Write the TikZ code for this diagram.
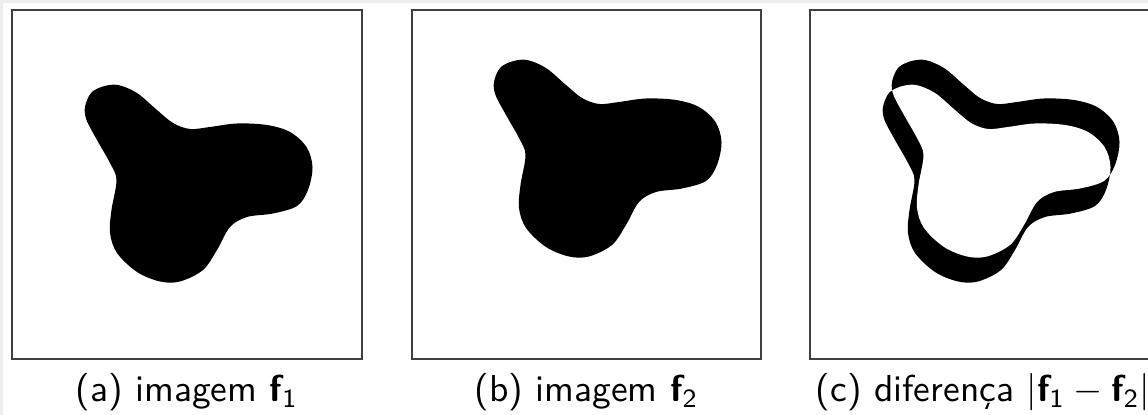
\documentclass[tikz,border=0pt]{standalone}
\usepackage{amsmath}
\usepackage{tikz}
\usetikzlibrary{positioning}

% Outline of the shape f_1 (pixel coordinates, panel (a))
\newcommand{\blobPath}{plot[smooth cycle, tension=0.55] coordinates {
    (85,107) (91,93) (103,86.5) (118,85) (137,93) (157,110) (173,123)
    (190,129) (210,127) (237,123.5) (267,125) (290,132) (306.5,147)
    (312.5,167) (308,190) (297,206) (273,213.5) (247,217) (230,227)
    (217,250) (203,270) (180,281.5) (160,281.5) (137,272) (117,253)
    (110,233) (111.5,210) (116.5,180) (110,163) (97,140) (86.5,120)}}

\begin{document}
\begin{tikzpicture}[
    x=0.2667pt, y=-0.2667pt,
    font=\sffamily,
    frame/.style={draw=black!75, line width=0.55pt},
    blob/.style={fill=black},
    caption/.style={anchor=base, inner sep=0pt}
]

% Macros for the panel offsets
\def\dx{9}    % shift of f_2 with respect to f_1
\def\dy{-25}
\def\offB{400}
\def\offC{798}

\clip (0,0) rectangle (1148,415);
\fill[black!7] (0,0) rectangle (1148,415);
\fill[white] (3,3) rectangle (1148,415);

% ==========================================
% (a) imagem f_1
\draw[frame] (12,10) rectangle (362,359);
\fill[blob] \blobPath;
\node[caption] (capA) at (187,402) {(a) imagem $\textbf{f}_{\textsf{1}}$};

% ==========================================
% (b) imagem f_2
\draw[frame] (412,10) rectangle (761,359);
\begin{scope}[shift={(\offB+\dx,\dy)}]
  \fill[blob] \blobPath;
\end{scope}
\node[caption] (capB) at (586.5,402) {(b) imagem $\textbf{f}_{\textsf{2}}$};

% ==========================================
% (c) diferenca |f_1 - f_2|: both shapes, overlap cleared again
\draw[frame] (810,10) rectangle (1160,359);
\begin{scope}[shift={(\offC,0)}]
  \fill[blob] \blobPath;
  \begin{scope}[shift={(\dx,\dy)}]
    \fill[blob] \blobPath;
  \end{scope}
  \begin{scope}
    \clip \blobPath;
    \begin{scope}[shift={(\dx,\dy)}]
      \fill[white] \blobPath;
    \end{scope}
  \end{scope}
\end{scope}
\node[caption] (capC) at (983,402) {(c) diferença $|\textbf{f}_{\textsf{1}} - \textbf{f}_{\textsf{2}}|$};

\end{tikzpicture}
\end{document}
